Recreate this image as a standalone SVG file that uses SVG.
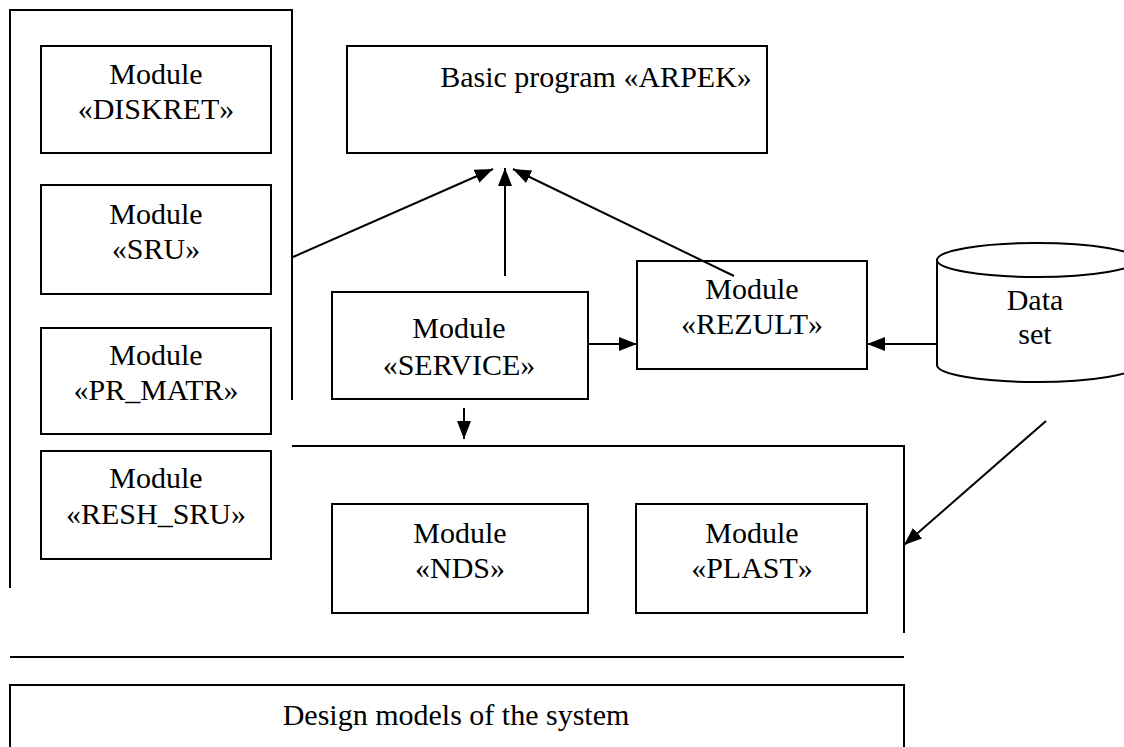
<svg xmlns="http://www.w3.org/2000/svg" width="1124" height="747" viewBox="0 0 1124 747">
<defs>
<style>
.b{fill:#fff;stroke:#000;stroke-width:2}
.l{fill:none;stroke:#000;stroke-width:2}
text{font-family:'Liberation Serif','Times New Roman',Times,serif;font-size:30px;fill:#000;text-anchor:middle}
.c{fill:none;stroke:#000;stroke-width:2;marker-end:url(#ah)}
</style>
<marker id="ah" markerUnits="userSpaceOnUse" markerWidth="18" markerHeight="14" refX="18" refY="7" orient="auto">
<path d="M0,0 L18,7 L0,14 z" fill="#000"/>
</marker>
</defs>
<rect width="1124" height="747" fill="#fff"/>

<g id="frame-left">
<path class="l" d="M10,588 L10,10 L292,10 L292,400"/>
</g>
<g id="frame-lower">
<path class="l" d="M292,446 L904,446 L904,633"/>
</g>
<g id="separator">
<line class="l" x1="10" y1="657" x2="904" y2="657"/>
</g>

<g font-family="Liberation Serif, serif">
<g id="diskret">
<rect class="b" x="41" y="46" width="230" height="107"/>
<text x="156" y="84">Module</text>
<text x="156" y="119">«DISKRET»</text>
</g>
<g id="sru">
<rect class="b" x="41" y="185" width="230" height="109"/>
<text x="156" y="224">Module</text>
<text x="156" y="259">«SRU»</text>
</g>
<g id="pr_matr">
<rect class="b" x="41" y="328" width="230" height="106"/>
<text x="156" y="365">Module</text>
<text x="156" y="400">«PR_MATR»</text>
</g>
<g id="resh_sru">
<rect class="b" x="41" y="451" width="230" height="108"/>
<text x="156" y="488">Module</text>
<text x="156" y="524">«RESH_SRU»</text>
</g>

<g id="arpek">
<rect class="b" x="347" y="46" width="420" height="107"/>
<text x="596" y="87">Basic program «ARPEK»</text>
</g>
<g id="service">
<rect class="b" x="332" y="292" width="256" height="107"/>
<text x="459" y="338">Module</text>
<text x="459" y="375">«SERVICE»</text>
</g>
<g id="rezult">
<rect class="b" x="637" y="261" width="230" height="108"/>
<text x="752" y="299">Module</text>
<text x="752" y="334">«REZULT»</text>
</g>
<g id="dataset">
<path class="b" d="M937,260 L937,365 A100,17 0 0 0 1137,365 L1137,260"/>
<ellipse class="b" cx="1037" cy="260" rx="100" ry="17"/>
<text x="1035" y="310">Data</text>
<text x="1035" y="344">set</text>
</g>
<g id="nds">
<rect class="b" x="332" y="504" width="256" height="109"/>
<text x="460" y="543">Module</text>
<text x="460" y="578">«NDS»</text>
</g>
<g id="plast">
<rect class="b" x="636" y="504" width="231" height="109"/>
<text x="752" y="543">Module</text>
<text x="752" y="578">«PLAST»</text>
</g>
<g id="design">
<rect class="b" x="10" y="685" width="894" height="80"/>
<text x="456" y="725">Design models of the system</text>
</g>
</g>

<g id="connectors">
<line class="c" x1="293" y1="257" x2="493" y2="169"/>
<line class="c" x1="505" y1="276" x2="505" y2="168"/>
<line class="c" x1="734" y1="276" x2="513" y2="169"/>
<line class="c" x1="588" y1="344" x2="637" y2="344"/>
<line class="c" x1="937" y1="344" x2="867" y2="344"/>
<line class="c" x1="464" y1="408" x2="464" y2="439"/>
<line class="c" x1="1046" y1="421" x2="904" y2="545"/>
</g>
</svg>
